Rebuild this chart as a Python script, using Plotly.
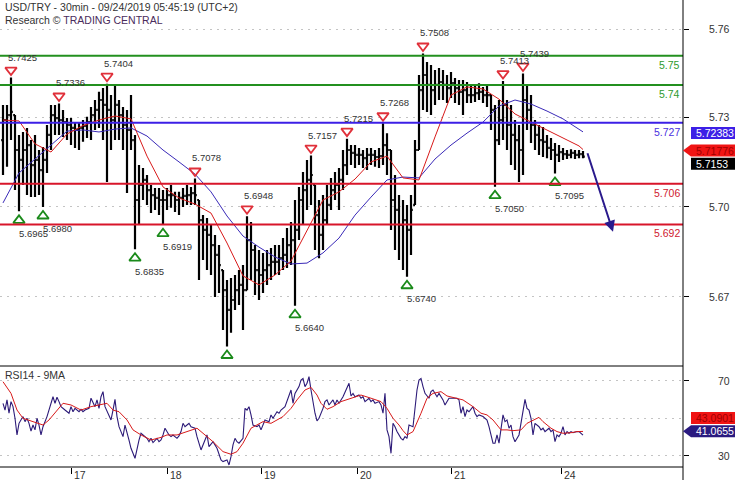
import plotly.graph_objects as go

# ---------------- data ----------------
# hourly bars (positions in 30-min bar units)
bar_pos = list(range(0, 292, 2))
first_open = 5.7210
highs = [
    5.7331, 5.7331, 5.7425, 5.7296, 5.7228, 5.7238, 5.7252, 5.7210, 5.7228, 5.7176,
    5.7186, 5.7262, 5.7331, 5.7331, 5.7336, 5.7314, 5.7286, 5.7286, 5.7272, 5.7269,
    5.7279, 5.7290, 5.7324, 5.7348, 5.7376, 5.7389, 5.7404, 5.7365, 5.7396, 5.7348,
    5.7324, 5.7314, 5.7365, 5.7228, 5.7124, 5.7114, 5.7090, 5.7056, 5.7045, 5.7045,
    5.7038, 5.7045, 5.7056, 5.7032, 5.7032, 5.7045, 5.7056, 5.7049, 5.7078, 5.7004,
    5.6952, 5.6942, 5.6918, 5.6884, 5.6849, 5.6763, 5.6729, 5.6736, 5.6746, 5.6763,
    5.6780, 5.6948, 5.6928, 5.6849, 5.6832, 5.6822, 5.6832, 5.6839, 5.6849, 5.6849,
    5.6873, 5.6908, 5.6928, 5.7004, 5.7049, 5.7100, 5.7142, 5.7157, 5.7056, 5.7004,
    5.7021, 5.7056, 5.7080, 5.7100, 5.7114, 5.7176, 5.7215, 5.7193, 5.7193, 5.7183,
    5.7176, 5.7183, 5.7183, 5.7176, 5.7183, 5.7268, 5.7234, 5.7176, 5.7090, 5.7021,
    5.7004, 5.6987, 5.7021, 5.7210, 5.7434, 5.7508, 5.7479, 5.7468, 5.7451, 5.7458,
    5.7451, 5.7434, 5.7444, 5.7424, 5.7417, 5.7417, 5.7410, 5.7400, 5.7400, 5.7406,
    5.7393, 5.7400, 5.7365, 5.7331, 5.7348, 5.7413, 5.7348, 5.7331, 5.7279, 5.7262,
    5.7439, 5.7400, 5.7365, 5.7279, 5.7262, 5.7255, 5.7228, 5.7217, 5.7200, 5.7193,
    5.7183, 5.7176, 5.7179, 5.7176, 5.7176, 5.7173,
]
lows = [
    5.7090, 5.7118, 5.7210, 5.7038, 5.6965, 5.7056, 5.7021, 5.7014, 5.7014, 5.7021,
    5.6980, 5.7097, 5.7176, 5.7228, 5.7228, 5.7221, 5.7210, 5.7193, 5.7183, 5.7176,
    5.7204, 5.7217, 5.7210, 5.7245, 5.7252, 5.7210, 5.7066, 5.7176, 5.7210, 5.7210,
    5.7176, 5.7028, 5.7176, 5.6835, 5.6918, 5.7004, 5.6987, 5.6959, 5.6970, 5.6952,
    5.6919, 5.6970, 5.6977, 5.6963, 5.6952, 5.6980, 5.6987, 5.6987, 5.6987, 5.6729,
    5.6798, 5.6763, 5.6746, 5.6670, 5.6684, 5.6557, 5.6500, 5.6547, 5.6626, 5.6643,
    5.6557, 5.6694, 5.6729, 5.6677, 5.6660, 5.6684, 5.6712, 5.6729, 5.6746, 5.6746,
    5.6763, 5.6770, 5.6780, 5.6640, 5.6866, 5.6918, 5.6970, 5.6987, 5.6832, 5.6804,
    5.6832, 5.6918, 5.6970, 5.7004, 5.6970, 5.7038, 5.7090, 5.7124, 5.7114, 5.7124,
    5.7114, 5.7107, 5.7124, 5.7118, 5.7114, 5.7124, 5.7090, 5.6901, 5.6832, 5.6798,
    5.6763, 5.6740, 5.6815, 5.6987, 5.7176, 5.7314, 5.7307, 5.7296, 5.7331, 5.7348,
    5.7348, 5.7338, 5.7355, 5.7338, 5.7331, 5.7296, 5.7338, 5.7338, 5.7341, 5.7348,
    5.7338, 5.7324, 5.7245, 5.7050, 5.7193, 5.7210, 5.7176, 5.7124, 5.7107, 5.7066,
    5.7090, 5.7245, 5.7200, 5.7176, 5.7159, 5.7152, 5.7148, 5.7142, 5.7095, 5.7135,
    5.7142, 5.7145, 5.7148, 5.7145, 5.7148, 5.7148,
]
closes = [
    5.7279, 5.7296, 5.7307, 5.7176, 5.7142, 5.7176, 5.7193, 5.7124, 5.7142, 5.7107,
    5.7142, 5.7228, 5.7296, 5.7286, 5.7279, 5.7272, 5.7262, 5.7252, 5.7245, 5.7252,
    5.7259, 5.7272, 5.7296, 5.7314, 5.7348, 5.7331, 5.7314, 5.7279, 5.7331, 5.7296,
    5.7262, 5.7245, 5.7210, 5.7004, 5.7056, 5.7073, 5.7038, 5.7021, 5.7011, 5.7004,
    5.7004, 5.7021, 5.7021, 5.7004, 5.7011, 5.7018, 5.7021, 5.7028, 5.7021, 5.6935,
    5.6901, 5.6884, 5.6849, 5.6815, 5.6780, 5.6694, 5.6626, 5.6660, 5.6694, 5.6712,
    5.6694, 5.6866, 5.6832, 5.6763, 5.6746, 5.6763, 5.6780, 5.6791, 5.6791, 5.6804,
    5.6815, 5.6849, 5.6866, 5.6901, 5.7004, 5.7038, 5.7073, 5.7090, 5.6952, 5.6884,
    5.6935, 5.6987, 5.7038, 5.7056, 5.7073, 5.7124, 5.7176, 5.7166, 5.7159, 5.7159,
    5.7148, 5.7159, 5.7159, 5.7152, 5.7155, 5.7193, 5.7176, 5.7004, 5.6970, 5.6918,
    5.6935, 5.6901, 5.6970, 5.7176, 5.7382, 5.7434, 5.7400, 5.7382, 5.7400, 5.7410,
    5.7400, 5.7389, 5.7406, 5.7389, 5.7376, 5.7382, 5.7365, 5.7365, 5.7372, 5.7376,
    5.7365, 5.7365, 5.7314, 5.7210, 5.7279, 5.7331, 5.7262, 5.7228, 5.7210, 5.7176,
    5.7348, 5.7314, 5.7262, 5.7228, 5.7210, 5.7204, 5.7183, 5.7176, 5.7159, 5.7169,
    5.7162, 5.7159, 5.7166, 5.7159, 5.7162, 5.7153,
]

# moving averages
ma_pos = [0, 8, 16, 24, 32, 40, 48, 56, 64, 72, 80, 88, 96, 104, 112, 120, 128, 136, 144,
          152, 160, 168, 176, 184, 192, 200, 208, 216, 224, 232, 240, 248, 256, 264, 272,
          280, 288, 290]
ma_red = [5.7279, 5.7276, 5.7197, 5.7169, 5.7231, 5.7260, 5.7279, 5.7293, 5.7283, 5.7155,
          5.7049, 5.7011, 5.6990, 5.6959, 5.6856, 5.6743, 5.6712, 5.6746, 5.6794, 5.6897,
          5.7004, 5.7032, 5.7076, 5.7135, 5.7155, 5.7080, 5.7073, 5.7221, 5.7365, 5.7393,
          5.7386, 5.7351, 5.7300, 5.7272, 5.7245, 5.7217, 5.7190, 5.71776]
ma_blue = [5.6994, 5.7097, 5.7145, 5.7193, 5.7241, 5.7245, 5.7238, 5.7248, 5.7252, 5.7224,
           5.7176, 5.7135, 5.7093, 5.7032, 5.6949, 5.6880, 5.6842, 5.6808, 5.6784, 5.6787,
           5.6822, 5.6873, 5.6952, 5.7014, 5.7073, 5.7083, 5.7080, 5.7145, 5.7193, 5.7234,
           5.7272, 5.7327, 5.7348, 5.7334, 5.7310, 5.7283, 5.7245, 5.72383]

# RSI(14) and its 9MA
rsi_pos = [0, 1, 2, 3, 4, 5, 6, 7, 8, 10, 11, 12, 13, 14, 15, 16, 17, 18, 19, 20,
           22, 23, 25, 26, 27, 28, 29, 31, 33, 34, 35, 36, 38, 39, 40, 41, 43, 44, 45, 46,
           47, 48, 49, 50, 51, 53, 54, 55, 56, 57, 58, 60, 61, 63, 64, 65, 66, 68, 69, 70,
           72, 73, 74, 75, 77, 78, 79, 80, 81, 83, 84, 85, 87, 88, 89, 90, 91, 92, 93, 94,
           96, 97, 98, 99, 101, 102, 103, 105, 107, 108, 109, 110, 112, 113, 114, 115, 116, 117, 118, 120,
           121, 122, 123, 124, 125, 127, 128, 129, 131, 133, 134, 135, 137, 138, 139, 141, 143, 144, 145, 146,
           148, 149, 150, 151, 152, 153, 154, 155, 156, 157, 158, 160, 161, 162, 163, 165, 166, 167, 168, 170,
           171, 173, 174, 175, 176, 178, 179, 180, 181, 183, 184, 185, 186, 188, 189, 190, 191, 192, 193, 194,
           195, 196, 197, 198, 199, 200, 201, 202, 203, 205, 206, 207, 208, 209, 210, 211, 213, 214, 215, 216,
           217, 218, 220, 221, 222, 223, 225, 227, 228, 229, 230, 231, 232, 233, 235, 236, 237, 238, 240, 242,
           243, 245, 246, 247, 248, 249, 250, 251, 252, 253, 254, 255, 256, 258, 259, 260, 261, 262, 263, 264,
           265, 266, 267, 268, 269, 270, 271, 273, 274, 275, 276, 277, 278, 279, 280, 281, 282, 283, 284, 285,
           287, 288, 290]
rsi_val = [58.1, 54.5, 59.9, 52.8, 59.0, 56.3, 50.1, 41.2, 47.4, 51.0, 48.3, 50.1, 47.4, 43.3, 46.5, 43.9, 50.1, 46.5, 41.2, 45.6,
           51.0, 54.5, 61.6, 58.1, 61.3, 59.0, 56.3, 54.5, 52.8, 56.3, 53.6, 55.4, 53.6, 54.9, 53.6, 54.5, 55.4, 60.8, 58.1, 56.3,
           59.9, 55.4, 61.6, 64.3, 56.3, 51.0, 49.2, 54.5, 60.2, 51.0, 45.6, 40.3, 46.5, 38.5, 34.1, 31.4, 28.7, 38.5, 42.1, 41.2,
           39.4, 37.6, 39.4, 37.1, 39.4, 37.6, 38.5, 41.2, 44.8, 41.2, 40.3, 41.2, 39.4, 40.7, 43.0, 47.4, 45.6, 46.5, 47.4, 45.6,
           44.8, 40.3, 36.8, 33.2, 38.5, 41.2, 35.0, 37.6, 34.1, 31.4, 27.9, 27.0, 27.9, 25.2, 29.6, 35.9, 39.4, 37.6, 36.8, 39.4,
           55.4, 54.5, 56.3, 51.9, 46.5, 45.6, 46.5, 43.9, 49.2, 48.3, 51.9, 50.1, 53.6, 52.8, 54.5, 56.3, 61.6, 65.2, 58.1, 63.4,
           67.0, 70.5, 71.4, 67.0, 68.8, 72.3, 65.2, 58.1, 52.8, 48.7, 50.1, 55.4, 59.0, 59.9, 57.2, 59.9, 57.2, 59.9, 58.1, 61.6,
           64.3, 68.8, 62.0, 63.4, 61.6, 62.5, 60.8, 61.6, 59.0, 60.8, 59.0, 59.9, 58.1, 59.0, 57.2, 52.8, 63.4, 43.9, 40.3, 31.4,
           47.4, 45.6, 43.0, 41.2, 39.4, 38.5, 40.3, 39.4, 46.5, 45.6, 57.2, 65.2, 70.5, 71.4, 67.0, 63.4, 60.8, 64.3, 65.2, 63.4,
           61.6, 63.4, 59.9, 57.2, 59.0, 60.8, 60.8, 60.8, 59.9, 52.8, 56.3, 51.0, 54.5, 53.6, 56.3, 52.8, 51.0, 51.9, 51.0, 49.2,
           45.6, 36.8, 36.8, 41.2, 36.8, 43.9, 51.9, 48.3, 49.2, 44.8, 46.5, 40.3, 37.6, 41.2, 47.4, 54.5, 60.2, 55.4, 54.5, 50.1,
           41.2, 47.4, 46.5, 45.6, 43.9, 44.8, 43.0, 44.8, 43.0, 43.9, 37.6, 41.2, 40.3, 42.1, 45.6, 41.2, 43.0, 42.1, 43.0, 42.4,
           43.0, 43.0, 41.0655]
rsi_ma_pos = [0, 4, 7, 10, 15, 20, 23, 27, 30, 34, 39, 44, 49, 52, 55, 58, 62, 65, 69, 74,
              79, 82, 87, 92, 97, 100, 105, 110, 114, 117, 120, 124, 127, 130, 134, 137, 140, 144, 147, 151,
              154, 157, 159, 162, 165, 169, 174, 179, 184, 189, 192, 195, 198, 200, 202, 205, 209, 212, 215, 219,
              222, 227, 230, 235, 239, 242, 245, 249, 252, 255, 259, 262, 265, 268, 270, 274, 277, 280, 284, 287,
              290]
rsi_ma_val = [69.6, 63.4, 54.5, 50.1, 48.3, 46.5, 49.2, 54.5, 58.1, 57.2, 54.5, 56.3, 57.2, 58.1, 54.5, 53.6, 49.2, 43.9, 41.2, 38.5,
              39.9, 41.2, 41.2, 43.0, 44.8, 42.1, 37.6, 32.3, 30.9, 32.3, 36.8, 44.8, 46.5, 48.3, 47.4, 49.2, 51.0, 55.4, 59.9, 65.2,
              66.6, 62.5, 58.1, 54.9, 56.3, 59.0, 60.8, 62.5, 60.8, 59.0, 55.4, 50.1, 46.5, 43.5, 41.2, 43.0, 52.8, 60.8, 63.4, 64.3,
              62.0, 60.8, 59.9, 56.3, 52.8, 51.9, 49.2, 43.9, 43.9, 43.5, 43.9, 47.4, 49.2, 50.6, 48.3, 44.8, 43.0, 42.1, 42.4, 43.0,
              43.0901]

# support / resistance levels
levels = [5.75, 5.74, 5.727, 5.706, 5.692]
level_colors = ['#23901f', '#23901f', '#3c1fe6', '#d8152a', '#d8152a']
level_text_colors = ['#2e9a2e', '#2e9a2e', '#4a30e0', '#d02030', '#d02030']

# swing highs / lows (bar numbers of the hourly bars)
top_bars = [2, 14, 26, 48, 61, 77, 86, 95, 105, 125, 130]
bottom_bars = [4, 10, 33, 40, 56, 73, 101, 123, 138]
bottom_hidden = [56]

# forecast arrow (bar position, price)
arrow_from = (292, 5.7170)
arrow_to = (305, 5.6895)

# axis ticks
day_pos = [34, 82, 129, 177, 224, 279]
day_labels = ['17', '18', '19', '20', '21', '24']
price_grid = [5.7591, 5.7288, 5.6981, 5.6671]
price_grid_text = ['5.76', '5.73', '5.70', '5.67']
rsi_ticks = [30, 70]

# ---------------- layout constants ----------------
FONT = "Liberation Sans"
W, H = 735, 480
ML, MR, MT, MB = 0, 52, 0, 13
PLOT_H = H - MT - MB
MAIN_H = 366
SPLIT = (PLOT_H - MAIN_H) / PLOT_H
YMAIN = [5.6433, 5.7692]
YRSI = [24.1, 78.0]
XR = [-1.5, 340]
PX_PER_PRICE = MAIN_H / (YMAIN[1] - YMAIN[0])

opens = []
prev = first_open
for h, l, c in zip(highs, lows, closes):
    opens.append(min(max(prev, l), h))
    prev = c

fig = go.Figure()
fig.add_trace(go.Ohlc(
    x=bar_pos, open=opens, high=highs, low=lows, close=closes,
    increasing=dict(line=dict(color='black', width=2.2)),
    decreasing=dict(line=dict(color='black', width=2.2)),
    tickwidth=0.45, hoverinfo='skip', xaxis='x', yaxis='y'))
fig.add_trace(go.Scatter(x=ma_pos, y=ma_blue, mode='lines',
                         line=dict(color='#3a2ab8', width=1), xaxis='x', yaxis='y', hoverinfo='skip'))
fig.add_trace(go.Scatter(x=ma_pos, y=ma_red, mode='lines',
                         line=dict(color='#d81a1a', width=1), xaxis='x', yaxis='y', hoverinfo='skip'))

# swing markers
top_x = [bar_pos[b] for b in top_bars]
top_y = [highs[b] + 7.5 / PX_PER_PRICE for b in top_bars]
bot_x = [bar_pos[b] for b in bottom_bars]
bot_y = [lows[b] - 9 / PX_PER_PRICE for b in bottom_bars]
fig.add_trace(go.Scatter(x=top_x, y=top_y, mode='markers', xaxis='x', yaxis='y',
                         marker=dict(symbol='triangle-down-open', size=10, color='#e0303a',
                                     line=dict(width=1.8, color='#e0303a')), hoverinfo='skip'))
fig.add_trace(go.Scatter(x=bot_x, y=bot_y, mode='markers', xaxis='x', yaxis='y',
                         marker=dict(symbol='triangle-up-open', size=10, color='#1a8a1a',
                                     line=dict(width=1.8, color='#1a8a1a')), hoverinfo='skip'))

# RSI panel
fig.add_trace(go.Scatter(x=rsi_pos, y=rsi_val, mode='lines', xaxis='x', yaxis='y2',
                         line=dict(color='#2c1a78', width=1.1), hoverinfo='skip'))
fig.add_trace(go.Scatter(x=rsi_ma_pos, y=rsi_ma_val, mode='lines', xaxis='x', yaxis='y2',
                         line=dict(color='#d81a1a', width=1), hoverinfo='skip'))

annotations = []
shapes = []
txt = '#333333'

# titles
annotations.append(dict(xref='paper', yref='paper', x=0, y=1, xshift=3, yshift=-7, xanchor='left',
                        yanchor='middle', showarrow=False,
                        text='USD/TRY - 30min - 09/24/2019 05:45:19 (UTC+2)',
                        font=dict(family=FONT, size=10.5, color=txt)))
annotations.append(dict(xref='paper', yref='paper', x=0, y=1, xshift=3, yshift=-20, xanchor='left',
                        yanchor='middle', showarrow=False,
                        text="Research © <span style='color:#4a2c5c'>TRADING CENTRAL</span>",
                        font=dict(family=FONT, size=10.5, color=txt)))
annotations.append(dict(xref='paper', yref='paper', x=0, y=SPLIT, xshift=3, yshift=-9, xanchor='left',
                        yanchor='middle', showarrow=False, text='RSI14 - 9MA',
                        font=dict(family=FONT, size=10.5, color=txt)))

# swing labels
for b in top_bars:
    annotations.append(dict(xref='x', yref='y', x=bar_pos[b], y=highs[b], xanchor='left', yanchor='middle',
                            xshift=-5, yshift=20.5, showarrow=False, text=f'{highs[b]:.4f}',
                            font=dict(family=FONT, size=9.5, color=txt)))
for b in bottom_bars:
    if b in bottom_hidden:
        continue
    annotations.append(dict(xref='x', yref='y', x=bar_pos[b], y=lows[b], xanchor='left', yanchor='middle',
                            xshift=-2.5, yshift=-22, showarrow=False, text=f'{lows[b]:.4f}',
                            font=dict(family=FONT, size=9.5, color=txt)))

# level lines + labels
for v, c, tc in zip(levels, level_colors, level_text_colors):
    shapes.append(dict(type='line', xref='paper', yref='y', x0=0, x1=1, y0=v, y1=v,
                       line=dict(color=c, width=2), layer='above'))
    annotations.append(dict(xref='paper', yref='y', x=1, y=v, xanchor='right', yanchor='top',
                            xshift=-1, yshift=-1, showarrow=False, text=f'{v:g}',
                            font=dict(family=FONT, size=10.5, color=tc)))

# forecast arrow
annotations.append(dict(xref='x', yref='y', axref='x', ayref='y', x=arrow_to[0], y=arrow_to[1],
                        ax=arrow_from[0], ay=arrow_from[1], showarrow=True, text='',
                        arrowhead=2, arrowsize=1.1, arrowwidth=2, arrowcolor='#2a1a8c'))

# frame lines
shapes.append(dict(type='line', xref='paper', yref='paper', x0=0, x1=1, y0=SPLIT, y1=SPLIT,
                   line=dict(color='black', width=1)))
shapes.append(dict(type='line', xref='paper', yref='paper', x0=0, x1=1, y0=0, y1=0,
                   line=dict(color='black', width=1)))
shapes.append(dict(type='line', xref='paper', yref='paper', x0=1, x1=1, y0=-MB / PLOT_H, y1=1,
                   line=dict(color='black', width=1)))

# right axis labels
for v, t in zip(price_grid, price_grid_text):
    annotations.append(dict(xref='paper', yref='y', x=1, y=v, xanchor='right', yanchor='middle',
                            xshift=49, showarrow=False, text=t,
                            font=dict(family=FONT, size=10.5, color=txt)))
for v in rsi_ticks:
    annotations.append(dict(xref='paper', yref='y2', x=1, y=v, xanchor='right', yanchor='middle',
                            xshift=49, showarrow=False, text=str(v),
                            font=dict(family=FONT, size=10.5, color=txt)))

# day labels
for p, t in zip(day_pos, day_labels):
    annotations.append(dict(xref='x', yref='paper', x=p, y=0, xanchor='left', yanchor='top',
                            xshift=1, yshift=0, showarrow=False, text=t,
                            font=dict(family=FONT, size=10.5, color=txt)))

# value tags on the right
def tag(yref, value, text, fill, tcolor, arrow, shift=0):
    half = 6
    if arrow:
        path = f'M 0 {shift} L 8 {shift + half} L 52 {shift + half} L 52 {shift - half} L 8 {shift - half} Z'
    else:
        path = f'M 8 {shift + half} L 52 {shift + half} L 52 {shift - half} L 8 {shift - half} Z'
    shapes.append(dict(type='path', xref='paper', yref=yref, xsizemode='pixel', ysizemode='pixel',
                       xanchor=1, yanchor=value, path=path, fillcolor=fill, line=dict(width=0),
                       layer='above'))
    annotations.append(dict(xref='paper', yref=yref, x=1, y=value, xanchor='left', yanchor='middle',
                            xshift=11, yshift=shift, showarrow=False, text=text,
                            font=dict(family=FONT, size=10.5, color=tcolor)))

tag('y', ma_blue[-1], f'{ma_blue[-1]:.5f}', '#3c1fe6', 'white', False, -1)
tag('y', ma_red[-1], f'{ma_red[-1]:.5f}', '#f01414', '#a00000', True, -1)
tag('y', closes[-1], f'{closes[-1]:.4f}', 'black', 'white', False, -7)
tag('y2', rsi_ma_val[-1], f'{rsi_ma_val[-1]:.4f}', '#f01414', '#a00000', False, 13.5)
tag('y2', rsi_val[-1], f'{rsi_val[-1]:.4f}', '#2a1a80', 'white', True, 4)

grid_style = dict(showgrid=True, gridcolor='#c4c4c4', griddash='2px,5px', gridwidth=1)

fig.update_layout(
    width=W, height=H, autosize=False,
    margin=dict(l=ML, r=MR, t=MT, b=MB, pad=0),
    paper_bgcolor='white', plot_bgcolor='white',
    showlegend=False, hovermode=False,
    font=dict(family=FONT, size=10.5, color=txt),
    xaxis=dict(domain=[0, 1], range=XR, anchor='y2', showgrid=False, zeroline=False,
               showline=False, tickmode='array', tickvals=day_pos, ticks='outside',
               ticklen=6, tickcolor='black', tickwidth=1, showticklabels=False,
               rangeslider=dict(visible=False), fixedrange=True),
    yaxis=dict(domain=[SPLIT, 1], range=YMAIN, anchor='x', side='right', zeroline=False,
               showline=False, tickmode='array', tickvals=price_grid, ticks='outside',
               ticklen=5, tickcolor='black', showticklabels=False, **grid_style),
    yaxis2=dict(domain=[0, SPLIT], range=YRSI, anchor='x', side='right', zeroline=False,
                showline=False, tickmode='array', tickvals=rsi_ticks, ticks='outside',
                ticklen=5, tickcolor='black', showticklabels=False,
                minor=dict(tickmode='array', tickvals=[50], showgrid=True, gridcolor='#c4c4c4',
                           griddash='2px,5px', ticks=''),
                **grid_style),
    shapes=shapes, annotations=annotations,
)

fig.write_html('out.html', config={'displayModeBar': False, 'staticPlot': True})

# remove the default page margin so the chart fills the window exactly
with open('out.html', 'r', encoding='utf-8') as f:
    page = f.read()
page = page.replace('<head>', '<head><style>html,body{margin:0;padding:0;overflow:hidden;}</style>', 1)
with open('out.html', 'w', encoding='utf-8') as f:
    f.write(page)
